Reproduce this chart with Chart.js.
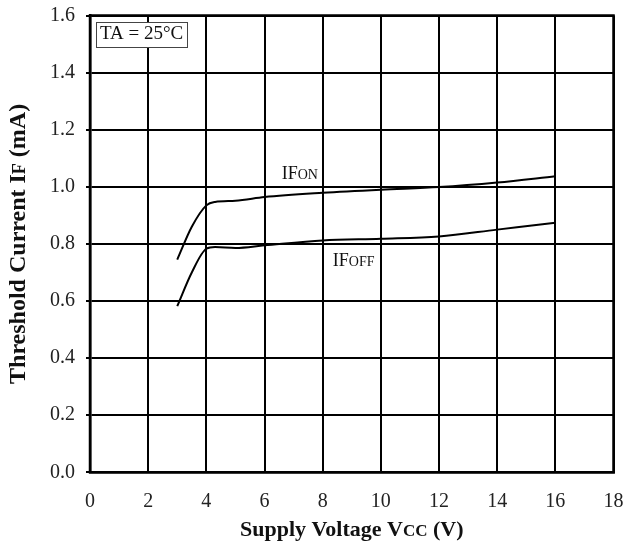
<!DOCTYPE html>
<html>
<head>
<meta charset="utf-8">
<script src="https://cdn.jsdelivr.net/npm/chart.js@4"></script>
<style>
  html, body { margin: 0; padding: 0; background: #fff; }
  #wrap { width: 625px; height: 546px; }
</style>
</head>
<body>
<div id="wrap"><canvas id="chart" width="625" height="546"></canvas></div>
<script>
// supply voltage Vcc (V)
const vcc = [3, 3.5, 4, 4.3, 5, 6, 8, 10, 12, 14, 16];
// threshold currents (mA)
const ifOn = [0.745, 0.86, 0.935, 0.947, 0.951, 0.964, 0.979, 0.99, 0.999, 1.015, 1.037];
const ifOff = [0.582, 0.70, 0.783, 0.789, 0.786, 0.795, 0.812, 0.818, 0.826, 0.85, 0.874];
const xTicks = [0, 2, 4, 6, 8, 10, 12, 14, 16, 18];
const yTicks = [0, 0.2, 0.4, 0.6, 0.8, 1.0, 1.2, 1.4, 1.6];

const serif = "'Liberation Serif', 'Times New Roman', serif";

// draw text made of [text, size] parts one after another
function drawParts(ctx, parts, x, y, bold) {
  let cx = x;
  parts.forEach(p => {
    ctx.font = (bold ? "bold " : "") + p[1] + "px " + serif;
    ctx.fillText(p[0], cx, y);
    cx += ctx.measureText(p[0]).width;
  });
  return cx - x;
}
function partsWidth(ctx, parts, bold) {
  let w = 0;
  parts.forEach(p => {
    ctx.font = (bold ? "bold " : "") + p[1] + "px " + serif;
    w += ctx.measureText(p[0]).width;
  });
  return w;
}

const labels = {
  id: "labels",
  afterDraw(chart) {
    const ctx = chart.ctx;
    const xs = chart.scales.x, ys = chart.scales.y;
    const area = chart.chartArea;
    ctx.save();
    ctx.textBaseline = "alphabetic";

    // frame
    ctx.strokeStyle = "#000";
    ctx.lineWidth = 2.5;
    ctx.strokeRect(area.left, area.top, area.right - area.left, area.bottom - area.top);

    // TA box
    ctx.fillStyle = "#fff";
    ctx.fillRect(96, 22, 91, 25);
    ctx.strokeStyle = "#444";
    ctx.lineWidth = 1;
    ctx.strokeRect(96.5, 22.5, 91, 25);
    ctx.fillStyle = "#111";
    drawParts(ctx, [["TA = 25°C", 19]], 100, 39, false);

    // curve labels
    drawParts(ctx, [["IF", 18], ["ON", 14]], xs.getPixelForValue(6.59), ys.getPixelForValue(1.027), false);
    drawParts(ctx, [["IF", 18], ["OFF", 14]], xs.getPixelForValue(8.35), ys.getPixelForValue(0.7225), false);

    // x title
    const xt = [["Supply Voltage V", 22], ["CC", 17], [" (V)", 22]];
    const xw = partsWidth(ctx, xt, true);
    drawParts(ctx, xt, (area.left + area.right) / 2 - xw / 2, 536, true);

    // y title
    const yt = [["Threshold Current I", 24], ["F", 18], [" (mA)", 24]];
    const yw = partsWidth(ctx, yt, true);
    ctx.translate(25, (area.top + area.bottom) / 2);
    ctx.rotate(-Math.PI / 2);
    drawParts(ctx, yt, -yw / 2, 0, true);
    ctx.restore();
  }
};

const mkLine = (ys) => vcc.map((v, i) => ({ x: v, y: ys[i] }));

new Chart(document.getElementById("chart"), {
  type: "scatter",
  data: {
    datasets: [
      { label: "IFON", data: mkLine(ifOn), showLine: true, borderColor: "#000", borderWidth: 2, pointRadius: 0, cubicInterpolationMode: "monotone" },
      { label: "IFOFF", data: mkLine(ifOff), showLine: true, borderColor: "#000", borderWidth: 2, pointRadius: 0, cubicInterpolationMode: "monotone" }
    ]
  },
  options: {
    responsive: false,
    animation: false,
    layout: { padding: { top: 15.5, right: 11.5, left: 0, bottom: 0 } },
    plugins: { legend: { display: false }, tooltip: { enabled: false } },
    scales: {
      x: {
        type: "linear", min: 0, max: 18,
        afterBuildTicks: s => { s.ticks = xTicks.map(v => ({ value: v })); },
        afterFit: s => { s.height = 73.7; s.paddingLeft = 0; s.paddingRight = 0; },
        grid: { color: "#000", lineWidth: 2, drawTicks: false },
        border: { color: "#000", width: 2.5 },
        ticks: { color: "#222", font: { family: serif, size: 20 }, padding: 17, maxRotation: 0 }
      },
      y: {
        type: "linear", min: 0, max: 1.6,
        afterBuildTicks: s => { s.ticks = yTicks.map(v => ({ value: v })); },
        afterFit: s => { s.width = 90; s.paddingTop = 0; s.paddingBottom = 0; },
        grid: { color: "#000", lineWidth: 2, tickLength: 4 },
        border: { color: "#000", width: 2.5 },
        ticks: { color: "#222", font: { family: serif, size: 20 }, padding: 11, callback: v => v.toFixed(1) }
      }
    }
  },
  plugins: [labels]
});
</script>
</body>
</html>
